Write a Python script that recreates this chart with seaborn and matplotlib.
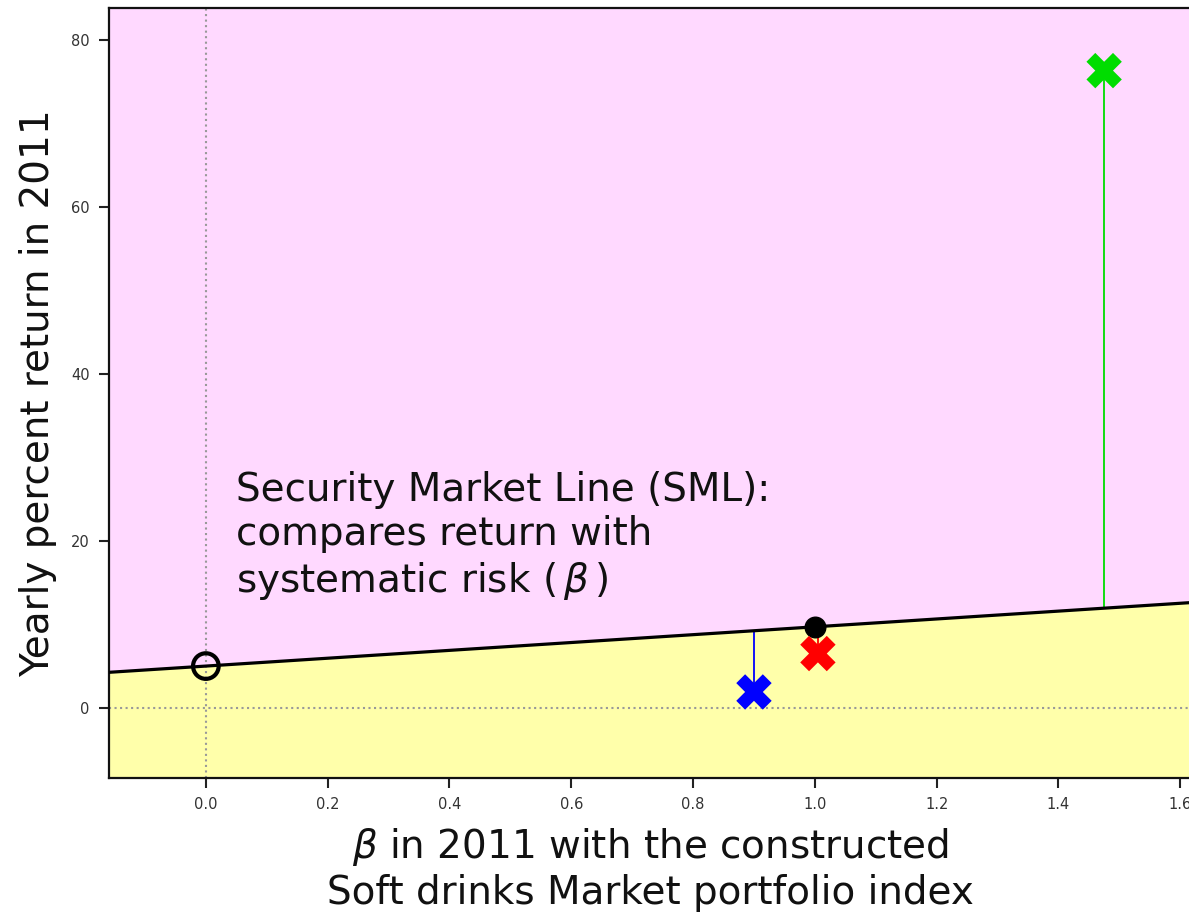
import numpy as np
import pandas as pd
import matplotlib
matplotlib.use("Agg")
import matplotlib.pyplot as plt
import seaborn as sns

# Security Market Line inputs (percent)
risk_free_rate = 5.0
market_return = 9.7

# Individual stocks: beta and yearly return in 2011 (percent)
stock_names = ["Stock A", "Stock B", "Stock C"]
stock_betas = [0.90, 1.005, 1.475]
stock_returns = [1.9, 6.5, 76.3]
stock_colors = ["#0000ff", "#ff0000", "#00dd00"]

x_tick_values = [0.0, 0.2, 0.4, 0.6, 0.8, 1.0, 1.2, 1.4, 1.6]
y_tick_values = [0, 20, 40, 60, 80]

x_limits = (-0.159, 1.62)
y_limits = (-8.4, 83.8)

sns.set_style("ticks")
plt.rcParams["font.family"] = ["DejaVu Sans"]

fig = plt.figure(figsize=(11.89, 9.17), dpi=100)
ax = fig.add_axes([0.0917, 0.1516, 0.9112, 0.8397])


def sml(beta):
    return risk_free_rate + np.asarray(beta) * (market_return - risk_free_rate)


line_x = np.array(x_limits)
line_y = sml(line_x)

# shaded regions above / below the SML
ax.fill_between(line_x, line_y, y_limits[1], color="#ffd9ff", lw=0, zorder=0)
ax.fill_between(line_x, y_limits[0], line_y, color="#ffffaa", lw=0, zorder=0)

# reference axes lines
ax.axhline(0, color="#999999", ls=":", lw=1.5, zorder=1)
ax.axvline(0, color="#999999", ls=":", lw=1.5, zorder=1)

# the SML itself
sml_df = pd.DataFrame({"beta": line_x, "ret": line_y})
sns.lineplot(data=sml_df, x="beta", y="ret", color="black", lw=2.3, ax=ax, zorder=3)

# vertical distance of each stock from the SML
for b, r, c in zip(stock_betas, stock_returns, stock_colors):
    ax.vlines(b, r, sml(b), color=c, lw=1.3, zorder=2)

# risk-free asset and market portfolio
ax.scatter([0.0], [risk_free_rate], s=340, facecolors="none",
           edgecolors="black", linewidths=3, zorder=4)
ax.scatter([1.0], [market_return], s=220, color="black", zorder=4)

# stocks
stocks_df = pd.DataFrame({"name": stock_names, "beta": stock_betas,
                          "ret": stock_returns})
sns.scatterplot(data=stocks_df, x="beta", y="ret", hue="name",
                palette=stock_colors, marker="X", s=650, linewidth=0,
                legend=False, ax=ax, zorder=5)

ax.text(0.05, 28.3,
        "Security Market Line (SML):\ncompares return with\nsystematic risk ($\\,\\beta\\,$)",
        fontsize=28, va="top", ha="left", color="#111111", linespacing=1.2)

ax.set_xlim(*x_limits)
ax.set_ylim(*y_limits)
ax.set_xticks(x_tick_values)
ax.set_yticks(y_tick_values)
ax.set_xticklabels([f"{v:.1f}" for v in x_tick_values])
ax.set_yticklabels([str(v) for v in y_tick_values])
ax.tick_params(axis="both", labelsize=10.5, length=7, width=1.5,
               pad=7, colors="#222222", labelcolor="#333333")

ax.set_xlabel("$\\beta$ in 2011 with the constructed\nSoft drinks Market portfolio index",
              fontsize=28, labelpad=10, color="#111111")
ax.set_ylabel("Yearly percent return in 2011", fontsize=28, labelpad=10,
              color="#111111")

for side in ["left", "bottom", "top", "right"]:
    ax.spines[side].set_visible(True)
    ax.spines[side].set_linewidth(1.6)
    ax.spines[side].set_color("#111111")

fig.savefig("out.png", dpi=100)
